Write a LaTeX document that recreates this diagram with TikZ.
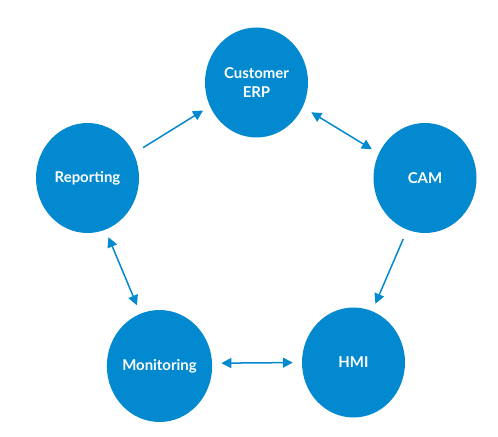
\documentclass[tikz,border=0pt]{standalone}
\usepackage{fontspec}
\setsansfont{Lato}
\usetikzlibrary{shapes.geometric,arrows.meta}
\definecolor{myblue}{RGB}{2,137,208}
\newcommand*{\mytextstyle}{\sffamily\bfseries\fontsize{15}{19}\selectfont\color{white}}

\begin{document}
\begin{tikzpicture}[
   x = 1bp, y = -1bp,
   bubble/.style = {
      ellipse,
      fill  = myblue,
      minimum width  = 103bp,
      minimum height = 110bp,
      inner sep = 0pt,
      font  = \mytextstyle,
      align = center
   },
   flow/.style = {
      draw = myblue,
      line width = 1.5bp,
      -{Triangle[length=10bp,width=10bp]}
   },
   twoway/.style = {
      flow,
      {Triangle[length=10bp,width=10bp]}-{Triangle[length=10bp,width=10bp]}
   }
]
   \useasboundingbox (0,0) rectangle (498,437);

   \node (erp) at (256.5, 82.5) [bubble]{Customer\\ERP};
   \node (rep) at ( 87.5,178.0) [bubble]{Reporting};
   \node (cam) at (425.0,178.0) [bubble]{CAM};
   \node (mon) at (159.5,366.0) [bubble, minimum height = 112bp]{Monitoring};
   \node (hmi) at (353.5,362.5) [bubble]{HMI};

%  arrows round the cycle
   \draw[flow,   shorten <= 11bp, shorten >= 8bp] (rep.28)  -- (erp.207);
   \draw[twoway, shorten <= 10bp, shorten >= 8bp] (erp.332) -- (cam.152);
   \draw[flow,   shorten <= 10bp, shorten >= 8bp] (cam.251) -- (hmi.70);
   \draw[twoway, shorten <= 8bp,  shorten >= 9bp] (rep.289) -- (mon.110);
   \draw[twoway, shorten <= 9bp,  shorten >= 9bp] (mon.3)   -- (hmi.180);

\end{tikzpicture}
\end{document}
